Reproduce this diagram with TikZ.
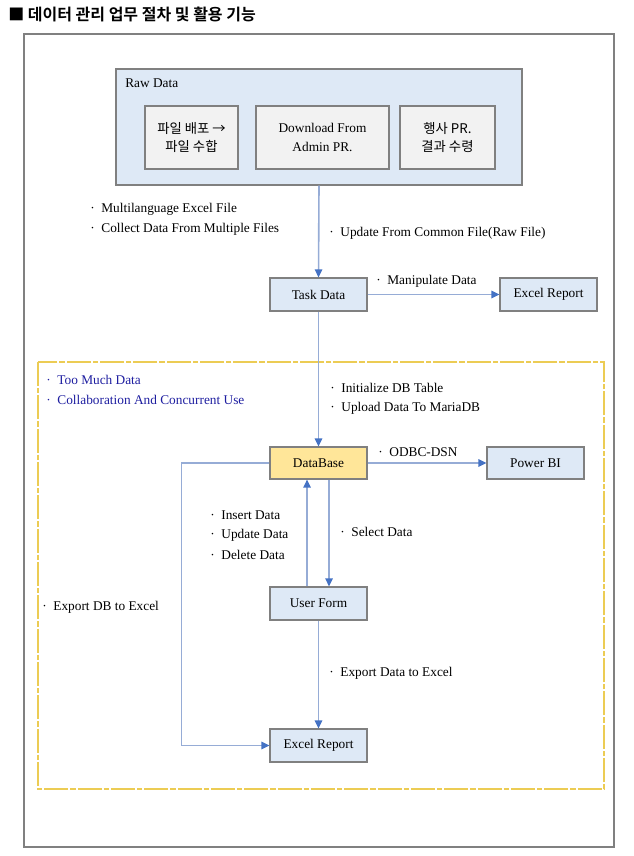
\documentclass[tikz,border=0pt]{standalone}
\usepackage{fontspec}
\setmainfont{Liberation Serif}
\newfontfamily\cjk{Noto Sans CJK KR}
\newfontfamily\cjkbold{Noto Sans CJK KR Bold}
\usetikzlibrary{arrows.meta}

\definecolor{boxblue}{RGB}{222,233,246}
\definecolor{boxgray}{RGB}{242,242,242}
\definecolor{boxyellow}{RGB}{255,230,153}
\definecolor{edgegray}{RGB}{128,128,128}
\definecolor{linkblue}{RGB}{150,172,214}
\definecolor{tipblue}{RGB}{68,114,196}
\definecolor{zoneyellow}{RGB}{236,204,84}
\definecolor{noteblue}{RGB}{30,30,160}

\begin{document}
\begin{tikzpicture}[x=0.75pt,y=-0.75pt,
    box/.style={draw=edgegray,line width=0.8pt,fill=boxblue,
                minimum width=72.75pt,minimum height=24.75pt,inner sep=0pt,font=\fontsize{10}{12}\selectfont},
    srcbox/.style={box,fill=boxgray,minimum height=47.25pt,align=center},
    conn/.style={draw=linkblue,line width=1.2pt,-{Triangle[length=6pt,width=5.5pt,color=tipblue]}},
    note/.style={anchor=west,inner sep=0pt,font=\fontsize{10}{12}\selectfont,align=left}]
    \useasboundingbox (0,0) rectangle (633,856);

    % title and frames
    \node[anchor=west,inner sep=0pt,font=\cjkbold\fontsize{12}{14}\selectfont] (title) at (8,14) {■ 데이터 관리 업무 절차 및 활용 기능};
    \draw[edgegray,line width=0.9pt] (24,34) rectangle (614,847);
    \draw[zoneyellow,line width=0.8pt,dash pattern=on 18pt off 1.5pt on 4pt off 1.5pt] (38,362) rectangle (604,789);

    % raw data sources
    \node[box,minimum width=304.5pt,minimum height=87pt] (raw) at (319,127) {};
    \node[note] (rawlabel) at (125,83) {Raw Data};
    \node[srcbox,minimum width=69.75pt] (share) at (191.5,137.5) {\cjk 파일 배포 →\\[2pt]\cjk 파일 수합};
    \node[srcbox,minimum width=99.75pt] (admin) at (322.5,137.5) {Download From\\[2pt]Admin PR.};
    \node[srcbox,minimum width=71.25pt] (event) at (447.5,137.5) {\cjk 행사 PR.\\[2pt]\cjk 결과 수령};

    % boxes
    \node[box] (task) at (318.5,294.5) {Task Data};
    \node[box] (report) at (548.5,294.5) {Excel Report};
    \node[box,fill=boxyellow,minimum height=24pt] (db) at (318.5,463) {DataBase};
    \node[box,minimum height=24pt] (powerbi) at (535.5,463) {Power BI};
    \node[box] (form) at (318.5,603.5) {User Form};
    \node[box] (export) at (318.5,745.5) {Excel Report};

    % connectors
    \draw[conn] (raw.south) -- (task.north);
    \draw[conn] (task.east) -- (report.west);
    \draw[conn] (task.south) -- (db.north);
    \draw[conn] (db.east) -- (powerbi.west);
    \draw[conn] ([xshift=-8.6pt]form.north) -- ([xshift=-8.6pt]db.south);
    \draw[conn] ([xshift=7.9pt]db.south) -- ([xshift=7.9pt]form.north);
    \draw[conn] (form.south) -- (export.north);
    \draw[conn] (db.west) -- ++(-88,0) |- (export.west);

    % notes
    \node[note] (multi) at (90,209) {· \ Multilanguage Excel File};
    \node[note] (collect) at (90,229) {· \ Collect Data From Multiple Files};
    \node[note] (update) at (329,233) {· \ Update From Common File(Raw File)};
    \node[note] (manip) at (376,281) {· \ Manipulate Data};
    \node[note,text=noteblue] (much) at (46,380) {· \ Too Much Data};
    \node[note,text=noteblue] (collab) at (46,400) {· \ Collaboration And Concurrent Use};
    \node[note] (init) at (330,388) {· \ Initialize DB Table};
    \node[note] (upload) at (330,408) {· \ Upload Data To MariaDB};
    \node[note] (odbc) at (378,452) {· \ ODBC-DSN};
    \node[note] (insert) at (210,515) {· \ Insert Data};
    \node[note] (updt) at (210,535) {· \ Update Data};
    \node[note] (delete) at (210,555) {· \ Delete Data};
    \node[note] (select) at (340,532) {· \ Select Data};
    \node[note] (dbxl) at (42,607) {· \ Export DB to Excel};
    \node[note] (dataxl) at (329,673) {· \ Export Data to Excel};
\end{tikzpicture}
\end{document}
